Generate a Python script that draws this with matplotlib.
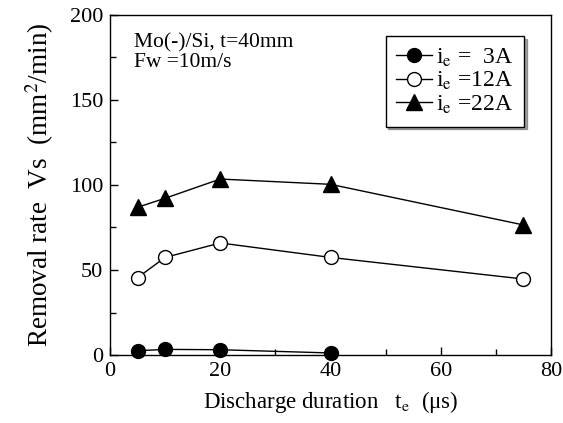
import matplotlib
matplotlib.use("Agg")
import matplotlib.pyplot as plt
from matplotlib.ticker import MultipleLocator

plt.rcParams['font.family'] = ['Liberation Serif', 'DejaVu Serif']
plt.rcParams['mathtext.fontset'] = 'stix'

te = [5, 10, 20, 40, 75]
te_3A = [5, 10, 20, 40]
vs_3A = [2.5, 3.3, 3.1, 1.2]
vs_12A = [45.5, 57.4, 65.9, 57.4, 44.7]
vs_22A = [86.9, 92.2, 103.5, 100.4, 76.5]
labels = [r'i$_\mathrm{e}$ =  3A', r'i$_\mathrm{e}$ =12A', r'i$_\mathrm{e}$ =22A']

fig = plt.figure(figsize=(5.63, 4.23), dpi=100)
ax = fig.add_axes([110/563, 1-355/423, 441/563, 340/423])

ax.plot(te_3A, vs_3A, '-o', color='black', mfc='black', mec='black', ms=10, lw=1, label=labels[0], clip_on=False, zorder=3)
ax.plot(te, vs_12A, '-o', color='black', mfc='white', mec='black', ms=10, mew=1, lw=1, label=labels[1], clip_on=False, zorder=3)
ax.plot(te, vs_22A, '-^', color='black', mfc='black', mec='black', ms=11, lw=1, label=labels[2], clip_on=False, zorder=3)

ax.set_xlim(0, 80)
ax.set_ylim(0, 200)
ax.xaxis.set_major_locator(MultipleLocator(20))
ax.xaxis.set_minor_locator(MultipleLocator(10))
ax.yaxis.set_major_locator(MultipleLocator(50))
ax.yaxis.set_minor_locator(MultipleLocator(25))
ax.tick_params(which='both', direction='in', top=False, right=False, labelsize=16, width=1)
ax.tick_params(which='major', length=6, pad=5)
ax.tick_params(which='minor', length=4)
for s in ax.spines.values():
    s.set_linewidth(1)

ax.set_xlabel(r'Discharge duration   t$_\mathrm{e}$  (μs)', fontsize=16.5, labelpad=6)
ax.set_ylabel(r'Removal rate  Vs  (mm$^2$/min)', fontsize=19.5, labelpad=10)

ax.text(0.055, 0.945, 'Mo(-)/Si, t=40mm\nFw =10m/s', transform=ax.transAxes,
        fontsize=15.5, va='top', ha='left', linespacing=1.0)

leg = ax.legend(loc='upper right', bbox_to_anchor=(0.939, 0.938), fontsize=17,
                frameon=True, fancybox=False, shadow=True, handlelength=1.5,
                handletextpad=0.2, borderpad=0.45, labelspacing=0.05, borderaxespad=0)
leg.get_frame().set_edgecolor('black')
leg.get_frame().set_linewidth(1)

fig.savefig('out.png', dpi=100)
